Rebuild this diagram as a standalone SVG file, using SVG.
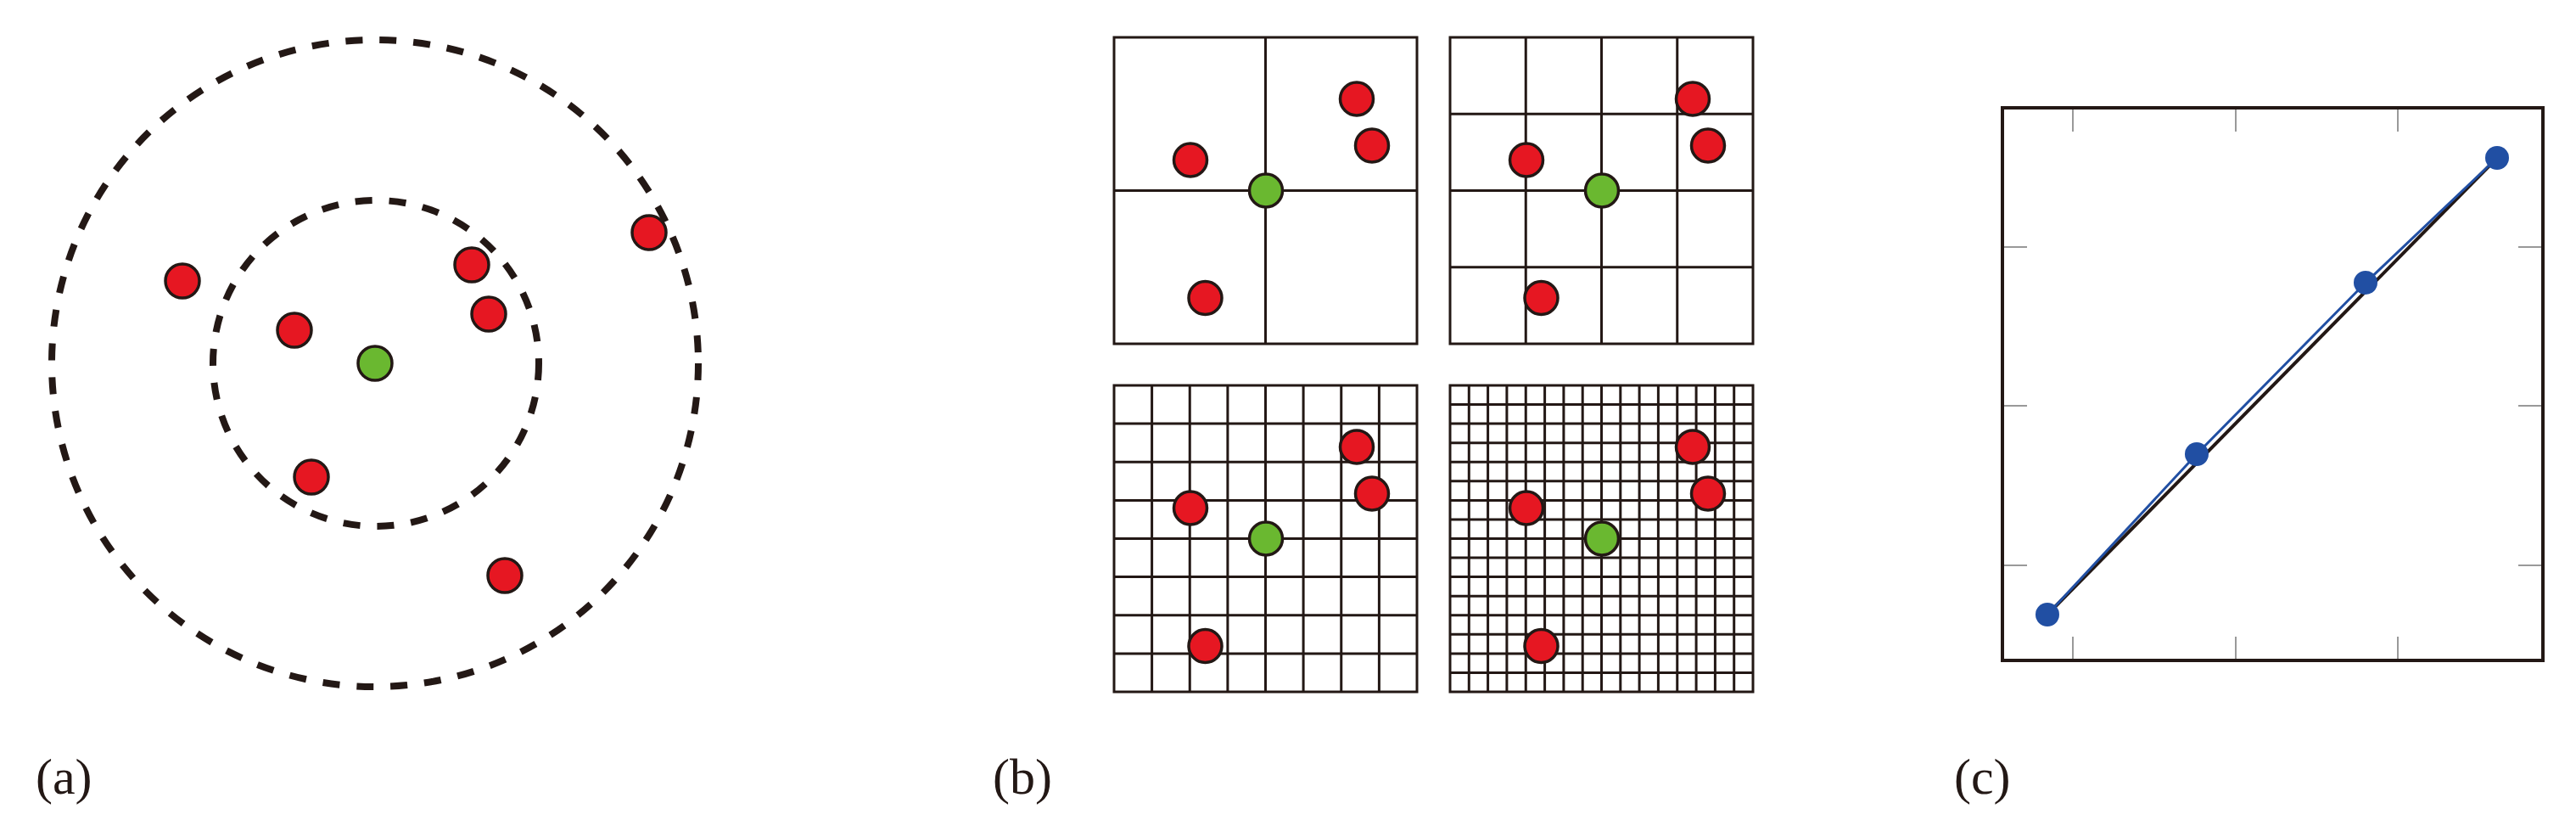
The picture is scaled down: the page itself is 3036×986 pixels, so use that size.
<svg xmlns="http://www.w3.org/2000/svg" width="3036" height="986" viewBox="0 0 3036 986">
<style>
.r{fill:#e61722;stroke:#231815;stroke-width:3.5}
.g{fill:#6ab830;stroke:#231815;stroke-width:3.5}
.d{fill:none;stroke:#231815;stroke-width:8;stroke-dasharray:20 20}
.gr{stroke:#231815;stroke-width:3;fill:none}
.lb{font-family:"Liberation Serif",serif;font-size:60px;fill:#231815}
.tk{stroke:#999;stroke-width:2}
</style>
<defs>
<g id="pts">
<circle class="r" cx="107" cy="-108" r="19.5"/>
<circle class="r" cx="125" cy="-53" r="19.5"/>
<circle class="r" cx="-89" cy="-36" r="19.5"/>
<circle class="r" cx="-71.5" cy="126.5" r="19.5"/>
<circle class="g" cx="0" cy="0" r="19.5"/>
</g>
</defs>
<g id="panel-a">
<circle class="d" cx="442" cy="428" r="381"/>
<circle class="d" cx="443" cy="428" r="192"/>
<circle class="r" cx="215" cy="331" r="20"/>
<circle class="r" cx="347" cy="389" r="20"/>
<circle class="r" cx="556" cy="312" r="20"/>
<circle class="r" cx="576" cy="370" r="20"/>
<circle class="r" cx="765" cy="274" r="20"/>
<circle class="r" cx="367" cy="562" r="20"/>
<circle class="r" cx="595" cy="678" r="20"/>
<circle class="g" cx="442" cy="428" r="20"/>
<text class="lb" x="42" y="935">(a)</text>
</g>
<g id="panel-b">
<g id="grid2" transform="translate(1313,44)">
<rect class="gr" width="357" height="361"/>
<path class="gr" d="M178.5 0V361M0 180.5H357"/>
<use href="#pts" x="179" y="180.5"/>
</g>
<g id="grid4" transform="translate(1709,44)">
<rect class="gr" width="357" height="361"/>
<path class="gr" d="M89.25 0V361M178.5 0V361M267.75 0V361M0 90.25H357M0 180.5H357M0 270.75H357"/>
<use href="#pts" x="179" y="180.5"/>
</g>
<g id="grid8" transform="translate(1313,454)">
<rect class="gr" width="357" height="361"/>
<path class="gr" d="M44.6 0V361M89.25 0V361M133.9 0V361M178.5 0V361M223.1 0V361M267.75 0V361M312.4 0V361M0 45.1H357M0 90.25H357M0 135.4H357M0 180.5H357M0 225.6H357M0 270.75H357M0 315.9H357"/>
<use href="#pts" x="179" y="180.5"/>
</g>
<g id="grid16" transform="translate(1709,454)">
<rect class="gr" width="357" height="361"/>
<path class="gr" d="M22.3 0V361M44.6 0V361M66.9 0V361M89.25 0V361M111.6 0V361M133.9 0V361M156.2 0V361M178.5 0V361M200.8 0V361M223.1 0V361M245.4 0V361M267.75 0V361M290.1 0V361M312.4 0V361M334.7 0V361M0 22.6H357M0 45.1H357M0 67.7H357M0 90.25H357M0 112.8H357M0 135.4H357M0 157.9H357M0 180.5H357M0 203.1H357M0 225.6H357M0 248.2H357M0 270.75H357M0 293.3H357M0 315.9H357M0 338.4H357"/>
<use href="#pts" x="179" y="180.5"/>
</g>
<text class="lb" x="1170" y="935">(b)</text>
</g>
<g id="panel-c">
<path class="tk" d="M2443 129V155M2635 129V155M2826 129V155M2443 776V750M2635 776V750M2826 776V750M2362 291H2389M2362 478H2389M2362 666H2389M2995 291H2968M2995 478H2968M2995 666H2968"/>
<g id="connectors">
<line x1="2413" y1="724" x2="2943" y2="186" stroke="#231815" stroke-width="4"/>
<polyline points="2413,724 2589,535 2788,333 2943,186" fill="none" stroke="#214fa3" stroke-width="3"/>
</g>
<g fill="#214fa3">
<circle cx="2413" cy="724" r="14"/>
<circle cx="2589" cy="535" r="14"/>
<circle cx="2788" cy="333" r="14"/>
<circle cx="2943" cy="186" r="14"/>
</g>
<rect x="2360" y="127" width="637" height="651" fill="none" stroke="#231815" stroke-width="4"/>
<text class="lb" x="2303" y="935">(c)</text>
</g>
</svg>
